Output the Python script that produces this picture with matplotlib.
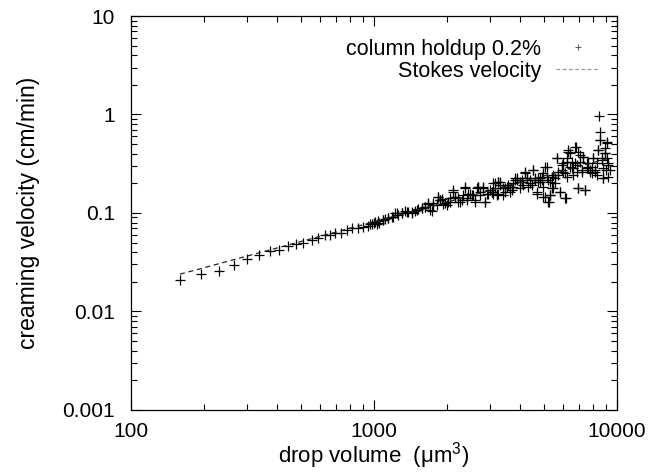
import matplotlib
matplotlib.use("Agg")
import matplotlib.pyplot as plt
from matplotlib.lines import Line2D
from matplotlib.ticker import LogLocator, FixedLocator, NullFormatter

plt.rcParams['font.family'] = ['Liberation Sans', 'DejaVu Sans']
plt.rcParams['mathtext.fontset'] = 'custom'
plt.rcParams['mathtext.rm'] = 'Liberation Sans'
plt.rcParams['mathtext.it'] = 'Liberation Sans'

# drop volume (um^3) and creaming velocity (cm/min)
volume_low = [159, 194, 230, 266, 301, 337, 373, 408, 441, 477, 512, 555, 590,
              629, 659, 691, 730, 772, 809, 856, 903, 947, 1004, 1052]
velocity_low = [0.0211, 0.0238, 0.0257, 0.0295, 0.0338, 0.0374, 0.0410, 0.0423,
                0.0457, 0.0479, 0.0499, 0.0529, 0.0560, 0.0596, 0.0604, 0.0630,
                0.0620, 0.0671, 0.0696, 0.0696, 0.0723, 0.0734, 0.0795, 0.0795]

volume_a = [963, 1025, 1092, 1146, 1201, 1240, 1300, 1363, 1429, 1498, 1571, 1622,
            1700, 1673, 1755, 1840, 1869, 1929, 1991, 2055, 2121, 2155, 2224, 2259,
            2369, 2332, 2406, 2445, 2523, 2604, 2646, 2688, 2731, 2818, 2863, 2909,
            3002, 3098, 3148, 3248, 3198, 3300, 3406, 3460, 3516, 3628, 3686, 3745,
            3805, 3866, 3990, 4053, 4118, 4184, 4250, 4386, 4457, 4528, 4599, 4673,
            4747, 4823, 4899, 4977, 4977, 5057, 5137, 5218, 5302, 5302, 5385, 5471,
            5559, 5647, 5737, 5829, 5922, 6017, 6112, 6209, 6209, 6308, 6409, 6512,
            6615, 6721, 6827, 6935, 6935, 7047, 7157, 7272, 7387, 7505, 7626, 7745,
            7869, 7993, 8121, 8251, 8380, 8514, 8514, 8461, 8650, 8789, 8930, 9071,
            9128, 9216, 9216, 9362, 8930, 8789]
velocity_a = [0.0782, 0.0782, 0.0846, 0.0893, 0.0915, 0.0989, 0.0989, 0.1027, 0.0989,
              0.1068, 0.1111, 0.1155, 0.1068, 0.1248, 0.1201, 0.1459, 0.1350, 0.1248,
              0.1201, 0.1299, 0.1705, 0.1459, 0.1404, 0.1299, 0.1801, 0.1517, 0.1404,
              0.1577, 0.1517, 0.1350, 0.1773, 0.1843, 0.1517, 0.1843, 0.1299, 0.1577,
              0.1705, 0.1577, 0.1773, 0.2073, 0.1517, 0.1917, 0.1773, 0.1640, 0.1843,
              0.1843, 0.1705, 0.1993, 0.2240, 0.2155, 0.2073, 0.2155, 0.1917, 0.2618,
              0.2240, 0.2155, 0.1917, 0.2722, 0.2240, 0.1577, 0.2073, 0.2240, 0.2155,
              0.1459, 0.1843, 0.2943, 0.2330, 0.1299, 0.1517, 0.2073, 0.1773, 0.2422,
              0.2240, 0.3576, 0.2618, 0.1640, 0.3059, 0.2618, 0.1404, 0.3307, 0.2330,
              0.4344, 0.4018, 0.2830, 0.2422, 0.4696, 0.3059, 0.1773, 0.4178, 0.3307,
              0.2722, 0.3717, 0.1705, 0.3181, 0.2943, 0.2722, 0.2518, 0.3576, 0.2722,
              0.2422, 0.4344, 0.5488, 0.6668, 0.9690, 0.3439, 0.2240, 0.4018, 0.3576,
              0.5279, 0.3059, 0.2330, 0.2722, 0.4518, 0.2830]

volume_b = [3050, 3148, 3248, 3300, 3406, 3460, 3572, 3628, 3745, 3805, 3866, 3990,
            4053, 4184, 4250, 4318, 4386, 4528, 4599, 4673, 4747, 4823, 4899, 4977,
            5057, 5137, 5218, 5268, 5302, 5385, 5471, 5559, 5647, 5737, 5829, 5922,
            6017, 6112, 6170, 6209, 6308, 6409, 6511, 6615, 6721, 6785, 6827, 6935,
            7045, 7157, 7272, 7387, 7505, 7626, 7745, 7869, 7993, 8121, 8251, 8380,
            8514, 8650, 8789, 8928, 9071, 9014, 9216]
velocity_b = [0.1640, 0.1993, 0.1577, 0.2073, 0.1517, 0.1773, 0.1916, 0.1640, 0.1843,
              0.2155, 0.2240, 0.1773, 0.2073, 0.2518, 0.2240, 0.1843, 0.1993, 0.2722,
              0.2155, 0.1640, 0.2240, 0.2073, 0.2330, 0.2518, 0.1459, 0.2943, 0.2155,
              0.1298, 0.1517, 0.2330, 0.1773, 0.1993, 0.3576, 0.2422, 0.1640, 0.2722,
              0.3181, 0.2518, 0.1404, 0.3576, 0.4178, 0.2943, 0.3307, 0.2830, 0.3181,
              0.4696, 0.2618, 0.1773, 0.3864, 0.2618, 0.3717, 0.1705, 0.2830, 0.3181,
              0.2618, 0.2943, 0.3576, 0.2618, 0.3181, 0.4344, 0.5488, 0.3576, 0.2240,
              0.4018, 0.5076, 0.2722, 0.3181]

volume_c = [978, 1010, 1042, 1092, 1110, 1146, 1182, 1221, 1259, 1300, 1342, 1384,
            1429, 1475, 1522, 1571, 1622, 1673, 1727, 1755, 1811, 1840, 1869, 1899,
            1960, 2023, 2055, 2121, 2155, 2224, 2296, 2369, 2406, 2484, 2564, 2604,
            2688, 2731, 2818, 2863, 2955, 3050, 3098, 3198, 3248]
velocity_c = [0.0782, 0.0813, 0.0826, 0.0846, 0.0879, 0.0893, 0.0915, 0.0989, 0.0951,
              0.0989, 0.1044, 0.1027, 0.1012, 0.1044, 0.1094, 0.1111, 0.1155, 0.1268,
              0.1052, 0.1249, 0.1201, 0.1459, 0.1350, 0.1381, 0.1249, 0.1299, 0.1404,
              0.1640, 0.1459, 0.1299, 0.1350, 0.1815, 0.1350, 0.1577, 0.1517, 0.1299,
              0.1844, 0.1640, 0.1773, 0.1299, 0.1577, 0.1640, 0.2001, 0.1577, 0.2040]

stokes_volume = [159, 9400]
stokes_velocity = [0.0239, 0.363]

volume = volume_low + volume_a + volume_b + volume_c
velocity = velocity_low + velocity_a + velocity_b + velocity_c

fig = plt.figure(figsize=(6.63, 4.72), dpi=100)
ax = fig.add_axes([0.1976, 0.1314, 0.7330, 0.8347])

ax.plot(volume, velocity, linestyle='none', marker='+', color='black',
        markersize=6.5, markeredgewidth=0.9)
ax.plot(stokes_volume, stokes_velocity, linestyle=(0, (4, 3)), color='#222222',
        linewidth=0.9)

ax.set_xscale('log')
ax.set_yscale('log')
ax.set_xlim(100, 10000)
ax.set_ylim(0.001, 10)

ax.xaxis.set_major_locator(FixedLocator([100, 1000, 10000]))
ax.yaxis.set_major_locator(FixedLocator([0.001, 0.01, 0.1, 1, 10]))
ax.set_xticklabels(['100', '1000', '10000'])
ax.set_yticklabels(['0.001', '0.01', '0.1', '1', '10'])
ax.xaxis.set_minor_locator(LogLocator(base=10, subs=range(2, 10), numticks=20))
ax.yaxis.set_minor_locator(LogLocator(base=10, subs=range(2, 10), numticks=20))
ax.xaxis.set_minor_formatter(NullFormatter())
ax.yaxis.set_minor_formatter(NullFormatter())

ax.tick_params(which='both', direction='in', top=True, right=True,
               labelsize=15, width=0.8)
ax.tick_params(axis='y', which='major', length=7, pad=11.5)
ax.tick_params(axis='x', which='major', length=7, pad=9)
ax.tick_params(which='minor', length=4)
for s in ax.spines.values():
    s.set_linewidth(0.9)

ax.set_xlabel(r'drop volume  ($\mathregular{\mu}$m$^{\mathregular{3}}$)', fontsize=16, labelpad=-1)
ax.set_ylabel('creaming velocity (cm/min)', fontsize=16.5, labelpad=16)

handles = [Line2D([], [], linestyle='none', marker='+', color='#555555',
                  markersize=5, markeredgewidth=0.7),
           Line2D([], [], linestyle=(0, (3, 2)), color='#999999', linewidth=0.9)]
ax.legend(handles, ['column holdup 0.2%', 'Stokes velocity'], loc='upper right',
          bbox_to_anchor=(0.995, 0.98), frameon=False, markerfirst=False,
          fontsize=15.5, handlelength=2.0, handletextpad=0.7, labelspacing=0.05,
          borderpad=0.2)

fig.savefig('out.png', dpi=100)
